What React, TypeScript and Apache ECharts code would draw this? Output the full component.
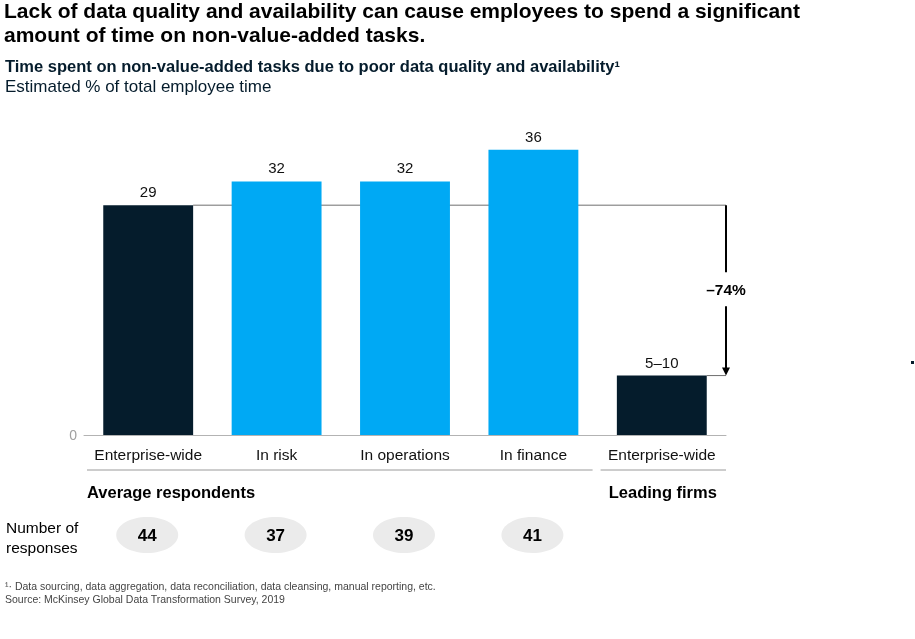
import React, { useEffect, useRef } from "react";
import * as echarts from "echarts";

const categories = ["Enterprise-wide", "In risk", "In operations", "In finance", "Enterprise-wide"];
const values = [29, 32, 32, 36, 7.5];
const valueLabels = ["29", "32", "32", "36", "5–10"];
const barColors = ["#051c2c", "#00a9f4", "#00a9f4", "#00a9f4", "#051c2c"];
const groupNames = ["Average respondents", "Leading firms"];
const groupRanges = [[0, 3], [4, 4]];
const responses = [44, 37, 39, 41];
const changeLabel = "–74%";
const titleLines = [
  "Lack of data quality and availability can cause employees to spend a significant",
  "amount of time on non-value-added tasks.",
];
const subtitle = "Time spent on non-value-added tasks due to poor data quality and availability¹";
const unitLine = "Estimated % of total employee time";
const footnotes = [
  "¹· Data sourcing, data aggregation, data reconciliation, data cleansing, manual reporting, etc.",
  "Source: McKinsey Global Data Transformation Survey, 2019",
];

const FONT = "'Liberation Sans', Arial, sans-serif";
const DARK = "#051c2c";

export default function App() {
  const ref = useRef<HTMLDivElement>(null);
  useEffect(() => {
    const chart = echarts.init(ref.current!, null, { renderer: "svg" });
    chart.setOption({
      animation: false,
      textStyle: { fontFamily: FONT },
      grid: { left: 84, right: 189, top: 118, bottom: 204 },
      xAxis: {
        type: "category",
        data: categories,
        axisLine: { lineStyle: { color: "#b3b3b3", width: 1 } },
        axisTick: { show: false },
        axisLabel: { color: "#111", fontSize: 15.5, margin: 11, fontFamily: FONT, interval: 0 },
      },
      yAxis: {
        type: "value",
        min: 0,
        max: 40,
        interval: 40,
        splitLine: { show: false },
        axisLine: { show: false },
        axisTick: { show: false },
        axisLabel: {
          color: "#a0a0a0",
          fontSize: 14,
          margin: 7,
          fontFamily: FONT,
          formatter: (v: number) => (v === 0 ? "0" : ""),
        },
      },
      series: [
        {
          type: "bar",
          barWidth: "70%",
          data: values.map((v, i) => ({ value: v, itemStyle: { color: barColors[i] } })),
          label: {
            show: true,
            position: "top",
            distance: 6,
            color: "#111",
            fontSize: 15,
            fontFamily: FONT,
            formatter: (p: any) => valueLabels[p.dataIndex],
          },
        },
      ],
    });

    const px = (i: number, v: number) => chart.convertToPixel({ gridIndex: 0 }, [i, v]) as number[];
    const c0 = px(0, 0);
    const c1 = px(1, 0);
    const band = c1[0] - c0[0];
    const half = band * 0.35;
    const gridRight = 915 - 189;
    const yFirst = px(0, values[0])[1];
    const yLast = px(4, values[4])[1];
    const yMid = (yFirst + yLast) / 2;

    const elems: any[] = [];
    titleLines.forEach((t, k) => {
      elems.push({
        type: "text",
        left: 4,
        top: 0 + k * 24,
        style: { text: t, fill: "#000", font: `bold 21px ${FONT}` },
      });
    });
    elems.push({ type: "text", left: 5, top: 57, style: { text: subtitle, fill: DARK, font: `bold 16.5px ${FONT}` } });
    elems.push({ type: "text", left: 5, top: 78, style: { text: unitLine, fill: DARK, font: `17px ${FONT}` } });

    elems.push({
      type: "line",
      shape: { x1: c0[0] + half, y1: yFirst, x2: gridRight, y2: yFirst },
      style: { stroke: "#6e6e6e", lineWidth: 1 },
    });
    const c4 = px(4, 0);
    elems.push({
      type: "line",
      shape: { x1: c4[0] + half, y1: yLast, x2: gridRight, y2: yLast },
      style: { stroke: "#6e6e6e", lineWidth: 1 },
    });
    elems.push({
      type: "line",
      shape: { x1: gridRight, y1: yFirst, x2: gridRight, y2: yMid - 18 },
      style: { stroke: "#000", lineWidth: 2 },
    });
    elems.push({
      type: "line",
      shape: { x1: gridRight, y1: yMid + 16, x2: gridRight, y2: yLast - 6 },
      style: { stroke: "#000", lineWidth: 2 },
    });
    elems.push({
      type: "polygon",
      shape: { points: [[gridRight - 4, yLast - 8], [gridRight + 4, yLast - 8], [gridRight, yLast]] },
      style: { fill: "#000" },
    });
    elems.push({
      type: "text",
      x: gridRight,
      y: yMid - 1,
      style: { text: changeLabel, fill: "#000", font: `bold 15.5px ${FONT}`, align: "center", verticalAlign: "middle" },
    });

    const axisY = c0[1];
    groupRanges.forEach((r, k) => {
      const last = k === groupRanges.length - 1;
      const xs = px(r[0], 0)[0] - band / 2 + 3;
      const xe = px(r[1], 0)[0] + band / 2 - (last ? 0 : 5);
      elems.push({
        type: "line",
        shape: { x1: xs, y1: axisY + 35, x2: xe, y2: axisY + 35 },
        style: { stroke: "#9a9a9a", lineWidth: 1 },
      });
      elems.push({
        type: "text",
        x: last ? (px(r[0], 0)[0] + px(r[1], 0)[0]) / 2 + 1 : xs,
        y: axisY + 57,
        style: {
          text: groupNames[k],
          fill: "#000",
          font: `bold 16.5px ${FONT}`,
          align: last ? "center" : "left",
          verticalAlign: "middle",
        },
      });
    });

    elems.push({
      type: "text",
      left: 6,
      top: 517,
      style: { text: "Number of\nresponses", fill: "#000", font: `15.5px ${FONT}`, lineHeight: 20 },
    });
    responses.forEach((n, i) => {
      const cx = px(i, 0)[0] - 1;
      elems.push({
        type: "ellipse",
        shape: { cx, cy: 535, rx: 31, ry: 18 },
        style: { fill: "#ebebeb" },
      });
      elems.push({
        type: "text",
        x: cx,
        y: 535,
        style: { text: String(n), fill: "#000", font: `bold 17px ${FONT}`, align: "center", verticalAlign: "middle" },
      });
    });

    footnotes.forEach((t, k) => {
      elems.push({
        type: "text",
        left: 5,
        top: 580 + k * 13,
        style: { text: t, fill: "#444", font: `10.5px ${FONT}` },
      });
    });

    elems.push({ type: "rect", shape: { x: 911, y: 361, width: 3, height: 3 }, style: { fill: DARK } });

    chart.setOption({ graphic: elems });
    return () => chart.dispose();
  }, []);
  return <div ref={ref} style={{ position: "fixed", left: 0, top: 0, width: 915, height: 639 }} />;
}
